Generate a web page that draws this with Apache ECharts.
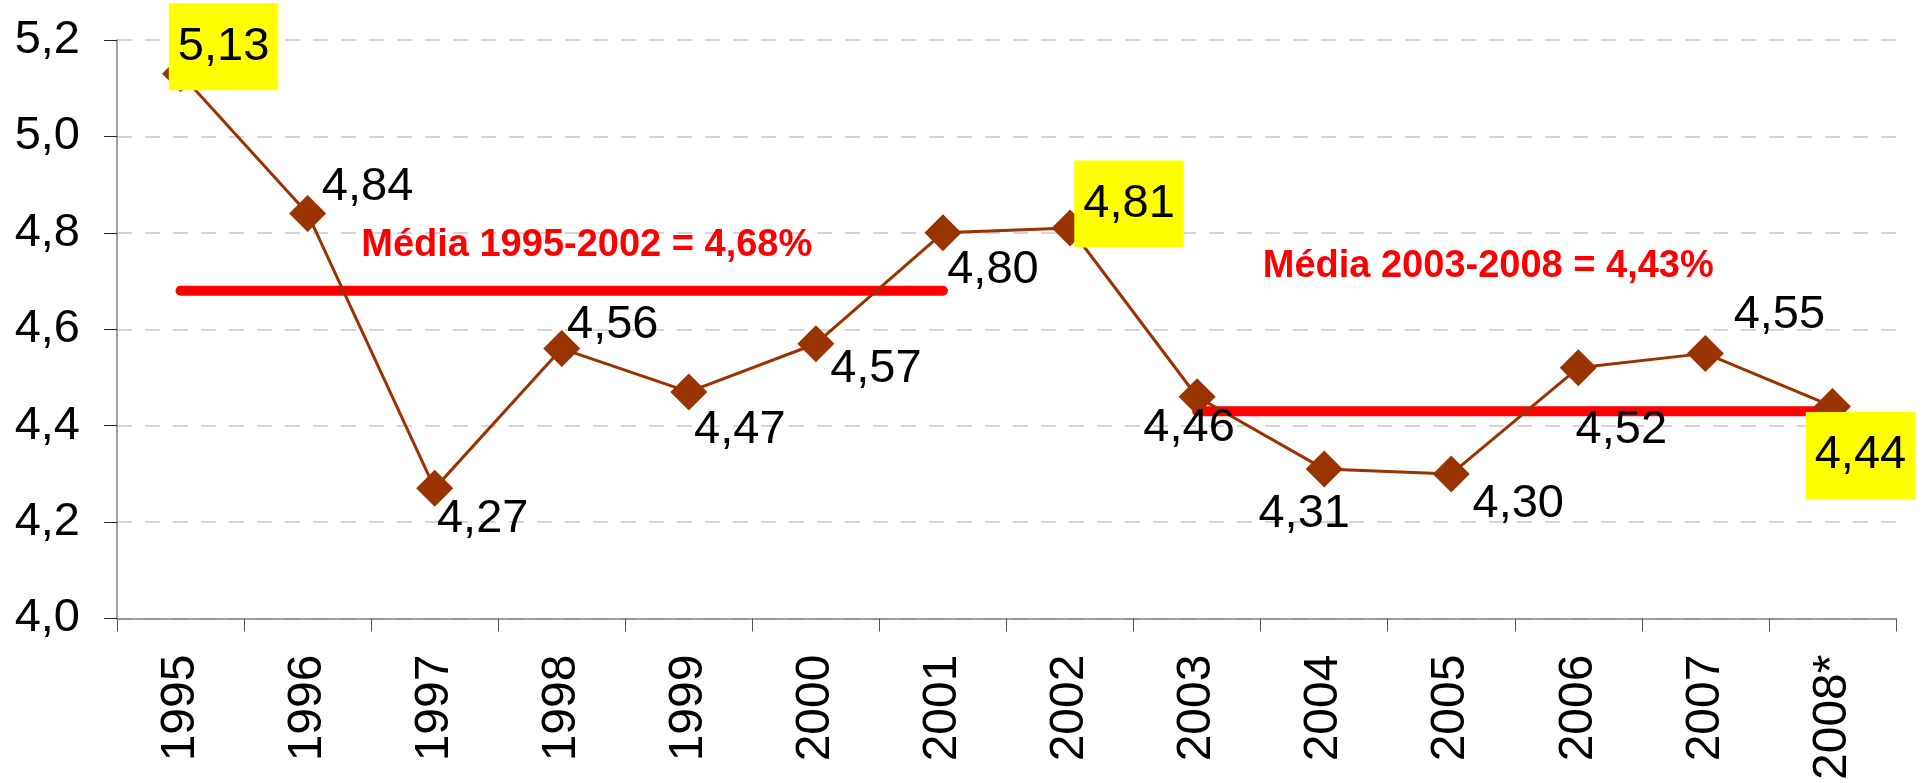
<!DOCTYPE html>
<html>
<head>
<meta charset="utf-8">
<title>Média</title>
<script src="https://cdn.jsdelivr.net/npm/echarts@6/dist/echarts.min.js"></script>
<style>
  html, body { margin: 0; padding: 0; background: #fff; }
  #chart { width: 1922px; height: 783px; }
</style>
</head>
<body>
<div id="chart"></div>
<script>
  // anos e valores
  const years = ['1995', '1996', '1997', '1998', '1999', '2000', '2001', '2002', '2003', '2004', '2005', '2006', '2007', '2008*'];
  const values = [5.13, 4.84, 4.27, 4.56, 4.47, 4.57, 4.80, 4.81, 4.46, 4.31, 4.30, 4.52, 4.55, 4.44];
  const highlighted = [0, 7, 13];

  // médias por período
  const avg1 = [4.68, 4.68, 4.68, 4.68, 4.68, 4.68, 4.68, null, null, null, null, null, null, null];
  const avg2 = [null, null, null, null, null, null, null, null, 4.43, 4.43, 4.43, 4.43, 4.43, 4.43];
  const avg1Text = 'Média 1995-2002 = 4,68%';
  const avg2Text = 'Média 2003-2008 = 4,43%';

  // deslocamento dos rótulos em relação ao marcador
  const labelOffsets = [
    [43, -27], [60, -27], [48, 31], [51, -24], [51, 38], [60, 25], [50, 37],
    [59, -24], [-8, 31], [-20, 45], [67, 30], [43, 62], [74, -38], [28, 49]
  ];

  const fmt = (v, d) => v.toFixed(d).replace('.', ',');
  const FONT = 'Liberation Sans, Arial, sans-serif';

  const mainData = values.map((v, i) => {
    const label = {
      show: true,
      position: 'inside',
      offset: labelOffsets[i],
      align: 'center',
      verticalAlign: 'middle',
      fontSize: 47,
      lineHeight: 47,
      color: '#000',
      fontFamily: FONT,
      formatter: fmt(v, 2)
    };
    if (highlighted.includes(i)) {
      label.backgroundColor = '#ffff00';
      label.padding = [20, 9];
    }
    return { value: v, label: label };
  });

  const avgData = (arr, idx, text, offset) =>
    arr.map((v, i) =>
      i === idx
        ? {
            value: v,
            label: {
              show: true,
              position: 'inside',
              offset: offset,
              align: 'center',
              verticalAlign: 'middle',
              fontSize: 38,
              fontWeight: 'bold',
              color: '#ff0000',
              fontFamily: FONT,
              formatter: text
            }
          }
        : v
    );

  const avgSeries = (data) => ({
    type: 'line',
    data: data,
    z: 2,
    symbol: 'rect',
    symbolSize: 1,
    showSymbol: true,
    silent: true,
    itemStyle: { color: 'rgba(0,0,0,0)' },
    lineStyle: { color: '#ff0000', width: 10, cap: 'round' },
    label: { show: false },
    emphasis: { disabled: true }
  });

  const chart = echarts.init(document.getElementById('chart'));
  chart.setOption({
    animation: false,
    textStyle: { fontFamily: FONT },
    grid: { left: 117, right: 26, top: 40, bottom: 161 },
    xAxis: {
      type: 'category',
      data: years,
      boundaryGap: true,
      axisLine: { lineStyle: { color: '#808080', width: 1.5 } },
      axisTick: { show: true, length: 13, lineStyle: { color: '#555' } },
      axisLabel: {
        rotate: 90,
        margin: 36,
        fontSize: 48,
        color: '#000',
        fontFamily: FONT
      },
      splitLine: { show: false }
    },
    yAxis: {
      type: 'value',
      min: 4.0,
      max: 5.2,
      interval: 0.2,
      axisLine: { show: true, lineStyle: { color: '#808080', width: 1.5 } },
      axisTick: { show: true, length: 13, lineStyle: { color: '#222' } },
      axisLabel: {
        margin: 37,
        fontSize: 47,
        color: '#000',
        fontFamily: FONT,
        formatter: (v) => fmt(v, 1)
      },
      splitLine: { lineStyle: { color: '#c8c8c8', type: [15, 13], width: 1.5 } }
    },
    series: [
      avgSeries(avgData(avg1, 3, avg1Text, [25, -45])),
      avgSeries(avgData(avg2, 10, avg2Text, [37, -145])),
      {
        type: 'line',
        data: mainData,
        z: 5,
        symbol: 'diamond',
        symbolSize: 37,
        showSymbol: true,
        itemStyle: { color: '#993300' },
        lineStyle: { color: '#993300', width: 3 },
        emphasis: { disabled: true }
      }
    ]
  });
</script>
</body>
</html>
